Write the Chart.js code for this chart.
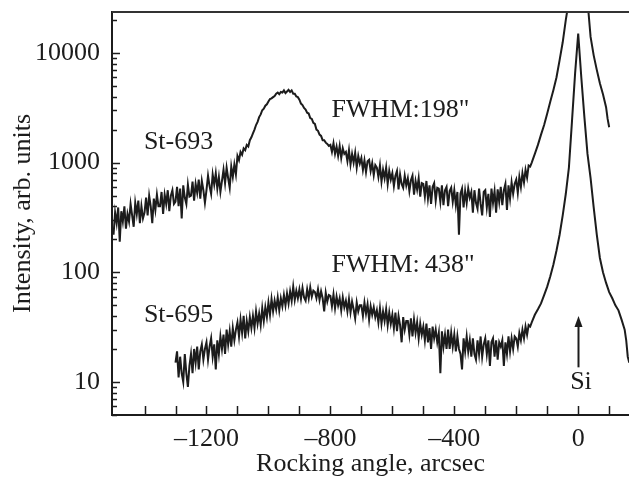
<!DOCTYPE html>
<html>
<head>
<meta charset="utf-8">
<script src="https://cdn.jsdelivr.net/npm/chart.js@4.4.1/dist/chart.umd.min.js"></script>
<style>
  html, body { margin: 0; padding: 0; background: #fff; }
  canvas { display: block; }
</style>
</head>
<body>
<canvas id="chart" width="629" height="484"></canvas>
<script>
// -------------------------------------------------------
// DATA

// St-693 : rocking angle (arcsec) and intensity
const angles693 = [
  -1500,-1495,-1490,-1485,-1480,-1475,-1470,-1465,-1460,-1455,
  -1450,-1445,-1440,-1435,-1430,-1425,-1420,-1415,-1410,-1405,
  -1400,-1395,-1390,-1385,-1380,-1375,-1370,-1365,-1360,-1355,
  -1350,-1345,-1340,-1335,-1330,-1325,-1320,-1315,-1310,-1305,
  -1300,-1295,-1290,-1285,-1280,-1275,-1270,-1265,-1260,-1255,
  -1250,-1245,-1240,-1235,-1230,-1225,-1220,-1215,-1210,-1205,
  -1200,-1195,-1190,-1185,-1180,-1175,-1170,-1165,-1160,-1155,
  -1150,-1145,-1140,-1135,-1130,-1125,-1120,-1115,-1110,-1105,
  -1100,-1095,-1090,-1085,-1080,-1075,-1070,-1065,-1060,-1055,
  -1050,-1045,-1040,-1035,-1030,-1025,-1020,-1015,-1010,-1005,
  -1000,-995,-990,-985,-980,-975,-970,-965,-960,-955,
  -950,-945,-940,-935,-930,-925,-920,-915,-910,-905,
  -900,-895,-890,-885,-880,-875,-870,-865,-860,-855,
  -850,-845,-840,-835,-830,-825,-820,-815,-810,-805,
  -800,-795,-790,-785,-780,-775,-770,-765,-760,-755,
  -750,-745,-740,-735,-730,-725,-720,-715,-710,-705,
  -700,-695,-690,-685,-680,-675,-670,-665,-660,-655,
  -650,-645,-640,-635,-630,-625,-620,-615,-610,-605,
  -600,-595,-590,-585,-580,-575,-570,-565,-560,-555,
  -550,-545,-540,-535,-530,-525,-520,-515,-510,-505,
  -500,-495,-490,-485,-480,-475,-470,-465,-460,-455,
  -450,-445,-440,-435,-430,-425,-420,-415,-410,-405,
  -400,-395,-390,-385,-380,-375,-370,-365,-360,-355,
  -350,-345,-340,-335,-330,-325,-320,-315,-310,-305,
  -300,-295,-290,-285,-280,-275,-270,-265,-260,-255,
  -250,-245,-240,-235,-230,-225,-220,-215,-210,-205,
  -200,-195,-190,-185,-180,-175,-170,-165,-160,-155,
  -150,-140,-130,-120,-110,-100,-90,-80,-70,-60,
  -50,-40,-30,-20,0,20,30,40,50,60,
  70,80,90,95,100
];
const intensity693 = [
  220,350,280,390,190,360,290,400,250,340,
  290,420,330,260,430,340,450,280,400,310,
  350,480,330,500,400,280,470,370,510,400,
  400,540,340,510,420,560,360,500,560,420,
  440,600,400,580,310,620,480,420,630,490,
  500,670,450,640,530,700,470,680,560,430,
  560,760,610,520,780,630,800,580,740,540,
  680,860,650,900,720,590,920,740,960,780,
  1150,1050,1250,1180,1350,1300,1450,1400,1600,1700,
  1850,2000,2200,2350,2600,2750,3000,3100,3300,3400,
  3600,3800,3850,3950,4050,4250,4350,4200,4400,4350,
  4550,4300,4450,4600,4400,4550,4250,4250,4000,3950,
  3750,3450,3350,3150,3050,2850,2800,2550,2500,2300,
  2250,2000,1950,1800,1750,1600,1600,1520,1480,1420,
  1450,1250,1500,1200,1400,1150,1420,1100,1350,1200,
  1250,1030,1300,960,1200,1000,1230,900,1150,980,
  1100,860,1050,820,1030,1060,840,990,770,950,
  900,740,940,670,860,720,900,640,840,700,
  800,610,760,840,570,780,640,590,760,620,
  720,550,690,760,510,680,570,720,490,650,
  640,490,680,470,620,420,600,650,450,590,
  580,440,620,410,560,600,400,550,590,440,
  560,410,540,220,520,580,390,550,430,580,
  480,540,350,560,430,380,580,420,330,540,
  560,390,520,320,580,430,550,350,570,440,
  600,410,560,640,370,620,470,660,520,640,
  700,530,740,600,800,660,860,730,940,920,
  1000,1200,1450,1800,2200,2800,3600,4600,6000,8600,
  12500,20000,30000,34000,36000,34000,30000,14000,9500,7000,
  5300,4200,3200,2500,2100
];

// St-695
const angles695 = [
  -1300,-1295,-1290,-1285,-1280,-1275,-1270,-1265,-1260,-1255,
  -1250,-1245,-1240,-1235,-1230,-1225,-1220,-1215,-1210,-1205,
  -1200,-1195,-1190,-1185,-1180,-1175,-1170,-1165,-1160,-1155,
  -1150,-1145,-1140,-1135,-1130,-1125,-1120,-1115,-1110,-1105,
  -1100,-1095,-1090,-1085,-1080,-1075,-1070,-1065,-1060,-1055,
  -1050,-1045,-1040,-1035,-1030,-1025,-1020,-1015,-1010,-1005,
  -1000,-995,-990,-985,-980,-975,-970,-965,-960,-955,
  -950,-945,-940,-935,-930,-925,-920,-915,-910,-905,
  -900,-895,-890,-885,-880,-875,-870,-865,-860,-855,
  -850,-845,-840,-835,-830,-825,-820,-815,-810,-805,
  -800,-795,-790,-785,-780,-775,-770,-765,-760,-755,
  -750,-745,-740,-735,-730,-725,-720,-715,-710,-705,
  -700,-695,-690,-685,-680,-675,-670,-665,-660,-655,
  -650,-645,-640,-635,-630,-625,-620,-615,-610,-605,
  -600,-595,-590,-585,-580,-575,-570,-565,-560,-555,
  -550,-545,-540,-535,-530,-525,-520,-515,-510,-505,
  -500,-495,-490,-485,-480,-475,-470,-465,-460,-455,
  -450,-445,-440,-435,-430,-425,-420,-415,-410,-405,
  -400,-395,-390,-385,-380,-375,-370,-365,-360,-355,
  -350,-345,-340,-335,-330,-325,-320,-315,-310,-305,
  -300,-295,-290,-285,-280,-275,-270,-265,-260,-255,
  -250,-245,-240,-235,-230,-225,-220,-215,-210,-205,
  -200,-195,-190,-185,-180,-175,-170,-165,-160,-155,
  -150,-140,-130,-120,-110,-100,-90,-80,-70,-60,
  -50,-40,-30,-20,-10,0,10,20,30,40,
  50,60,70,80,90,100,110,120,130,140,
  150,155,160,165
];
const intensity695 = [
  15,19,11,17,12,10,18,12,9,14,
  18,12,20,15,21,13,19,22,16,20,
  23,16,21,25,17,22,13,24,18,26,
  20,27,18,30,22,29,21,31,24,30,
  35,26,37,28,40,25,36,29,39,31,
  40,31,44,34,42,33,47,36,48,39,
  53,41,57,44,55,46,59,45,58,49,
  62,50,64,52,67,55,74,56,68,58,
  70,57,72,59,55,70,58,73,60,68,
  66,58,70,56,67,58,44,65,54,62,
  61,49,63,47,60,50,58,45,59,48,
  55,44,57,43,54,46,38,53,44,50,
  50,40,53,42,51,37,49,41,48,39,
  45,35,47,34,44,36,46,33,43,34,
  41,31,43,29,40,33,23,39,30,36,
  36,27,38,26,37,28,35,25,34,27,
  32,24,34,23,31,20,32,25,30,23,
  28,12,29,21,27,20,30,20,28,21,
  27,19,26,20,18,13,25,19,26,19,
  24,17,25,18,16,24,18,26,17,22,
  25,18,24,14,23,25,17,24,16,23,
  21,24,14,23,18,26,19,25,20,26,
  25,21,28,24,30,25,32,27,33,32,
  35,41,46,52,62,74,92,118,158,220,
  330,520,900,2400,6500,15000,6000,2600,1200,720,
  390,220,135,100,80,66,58,50,45,37,
  30,24,17,15
];

// axes
const X_TICKS = [-1400,-1300,-1200,-1100,-1000,-900,-800,-700,-600,-500,-400,-300,-200,-100,0,100];
const X_LABELS = [-1200, -800, -400, 0];
const Y_TICKS = [5,6,7,8,9,10,20,30,40,50,60,70,80,90,100,200,300,400,500,600,700,800,900,
                 1000,2000,3000,4000,5000,6000,7000,8000,9000,10000,20000];
const Y_LABELS = [10, 100, 1000, 10000];

// -------------------------------------------------------
// STYLE
const INK = "#1c1c1c";
const FONT = "'Liberation Serif', 'Times New Roman', serif";

// text notes placed in data coordinates
const notes = [
  { text: "St-693", x: -1402, y: 1540, align: "left" },
  { text: "St-695", x: -1402, y: 41, align: "left" },
  { text: "FWHM:198\"", x: -796, y: 3000, align: "left" },
  { text: "FWHM:\u2009438\"", x: -796, y: 117, align: "left" },
  { text: "Si", x: 9, y: 9.9, align: "center" },
];

const toPoints = (xs, ys) => xs.map((x, i) => ({ x, y: ys[i] }));

// -------------------------------------------------------
// PLUGINS
const frame = {
  id: "frame",
  afterDatasetsDraw(chart) {
    const { ctx, chartArea: a, scales: { x, y } } = chart;
    ctx.save();
    ctx.strokeStyle = INK;
    ctx.lineWidth = 1.5;
    ctx.beginPath();
    x.ticks.forEach((t) => {
      const px = Math.round(x.getPixelForValue(t.value)) + 0.5;
      ctx.moveTo(px, a.bottom);
      ctx.lineTo(px, a.bottom - 9);
    });
    y.ticks.forEach((t) => {
      const py = Math.round(y.getPixelForValue(t.value)) + 0.5;
      const len = Y_LABELS.includes(t.value) ? 8 : 5;
      ctx.moveTo(a.left, py);
      ctx.lineTo(a.left + len, py);
    });
    ctx.stroke();
    // top border
    ctx.lineWidth = 2;
    ctx.strokeStyle = "#333";
    ctx.beginPath();
    ctx.moveTo(a.left, a.top);
    ctx.lineTo(a.right, a.top);
    ctx.stroke();
    ctx.restore();
  },
};

const annotations = {
  id: "annotations",
  afterDraw(chart) {
    const { ctx, scales: { x, y } } = chart;
    ctx.save();
    ctx.fillStyle = INK;
    ctx.font = "26px " + FONT;
    ctx.textBaseline = "middle";
    notes.forEach((n) => {
      ctx.textAlign = n.align;
      ctx.fillText(n.text, x.getPixelForValue(n.x), y.getPixelForValue(n.y));
    });
    // arrow pointing at the Si peak
    const ax = Math.round(x.getPixelForValue(0)) + 0.5;
    const y0 = y.getPixelForValue(13.6);
    const y1 = y.getPixelForValue(40);
    ctx.strokeStyle = INK;
    ctx.lineWidth = 2;
    ctx.beginPath();
    ctx.moveTo(ax, y0);
    ctx.lineTo(ax, y1 + 8);
    ctx.stroke();
    ctx.beginPath();
    ctx.moveTo(ax, y1);
    ctx.lineTo(ax - 4, y1 + 11);
    ctx.lineTo(ax + 4, y1 + 11);
    ctx.closePath();
    ctx.fill();
    ctx.restore();
  },
};

// -------------------------------------------------------
// CHART
const lineStyle = {
  showLine: true,
  borderColor: INK,
  borderWidth: 2,
  pointRadius: 0,
  tension: 0,
  clip: 0,
};

new Chart(document.getElementById("chart"), {
  type: "scatter",
  data: {
    datasets: [
      { label: "St-693", data: toPoints(angles693, intensity693), ...lineStyle },
      { label: "St-695", data: toPoints(angles695, intensity695), ...lineStyle },
    ],
  },
  options: {
    responsive: false,
    animation: false,
    layout: { padding: { top: 12, right: 0, left: 0, bottom: 0 } },
    plugins: { legend: { display: false }, tooltip: { enabled: false } },
    scales: {
      x: {
        type: "linear",
        min: -1505,
        max: 164,
        afterFit: (s) => { s.height = 69; s.paddingLeft = 0; s.paddingRight = 0; },
        afterBuildTicks: (s) => { s.ticks = X_TICKS.map((v) => ({ value: v })); },
        grid: { display: false, drawTicks: false },
        border: { display: true, color: INK, width: 2 },
        ticks: {
          autoSkip: false,
          maxRotation: 0,
          padding: 9,
          color: INK,
          font: { family: FONT, size: 26 },
          callback: (v) => (X_LABELS.includes(v) ? (v < 0 ? "\u2013" + Math.abs(v) : String(v)) : ""),
        },
        title: {
          display: true,
          text: "Rocking angle, arcsec",
          color: INK,
          font: { family: FONT, size: 26 },
          padding: { top: 0, bottom: 4 },
        },
      },
      y: {
        type: "logarithmic",
        min: 5,
        max: 23600,
        afterFit: (s) => { s.width = 112; s.paddingTop = 0; s.paddingBottom = 0; },
        afterBuildTicks: (s) => { s.ticks = Y_TICKS.map((v) => ({ value: v })); },
        grid: { display: false, drawTicks: false },
        border: { display: true, color: INK, width: 2 },
        ticks: {
          autoSkip: false,
          padding: 12,
          color: INK,
          font: { family: FONT, size: 26 },
          callback: (v) => (Y_LABELS.includes(v) ? String(v) : ""),
        },
        title: {
          display: true,
          text: "Intensity, arb. units",
          color: INK,
          font: { family: FONT, size: 26 },
          padding: { top: 8, bottom: 0 },
        },
      },
    },
  },
  plugins: [frame, annotations],
});
</script>
</body>
</html>
